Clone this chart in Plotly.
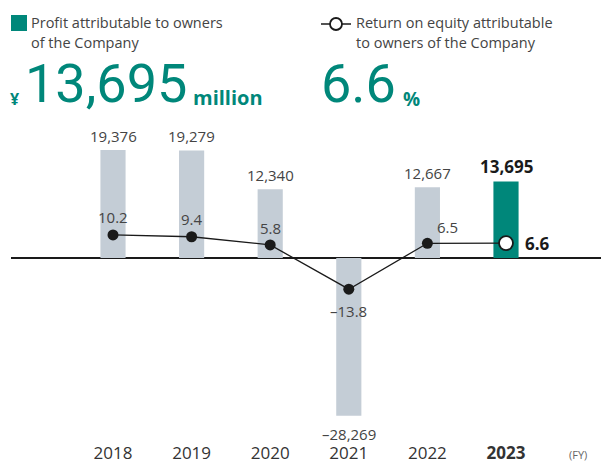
import plotly.graph_objects as go

years = ["2018", "2019", "2020", "2021", "2022", "2023"]
profit = [19376, 19279, 12340, -28269, 12667, 13695]
roe = [10.2, 9.4, 5.8, -13.8, 6.5, 6.6]
tick_text = ["2018", "2019", "2020", "2021", "2022", "<b>2023</b>"]

TEAL = "#00877a"
GRAY = "#c4cdd6"
DARK = "#1a1a1a"
TXT = "#444444"
FONT = "Open Sans"

W, H = 601, 461
ML, MR, MT, MB = 11, 0, 130, 21
PW, PH = W - ML - MR, H - MT - MB


def px(x):
    return (x - ML) / PW


def py(y):
    return (H - MB - y) / PH


def fmt_profit(v):
    s = f"{abs(v):,}"
    return ("\u2013" + s) if v < 0 else s


def fmt_roe(v):
    s = f"{abs(v):.1f}"
    return ("\u2013" + s) if v < 0 else s


fig = go.Figure()
fig.add_trace(go.Bar(
    x=years, y=profit, width=0.32,
    marker=dict(color=[GRAY] * 5 + [TEAL], line=dict(width=0)),
    hoverinfo="skip",
))
fig.add_trace(go.Scatter(
    x=years, y=roe, yaxis="y2", mode="lines+markers",
    line=dict(color=DARK, width=1.3),
    marker=dict(size=[11] * 5 + [14], color=[DARK] * 5 + ["#ffffff"], opacity=1,
                line=dict(color=DARK, width=[0] * 5 + [1.8])),
    cliponaxis=False, hoverinfo="skip",
))

zero_px = 258
bar_scale = 0.00558  # px per unit
roe_scale = 2.26
top_units = (zero_px - MT) / bar_scale
bot_units = (H - MB - zero_px) / bar_scale
top_roe = (zero_px - MT) / roe_scale
bot_roe = (H - MB - zero_px) / roe_scale

cat_w = 78.6
x0 = -(113 - ML) / cat_w
x1 = x0 + PW / cat_w

fig.update_layout(
    width=W, height=H, margin=dict(l=ML, r=MR, t=MT, b=MB, autoexpand=False),
    paper_bgcolor="white", plot_bgcolor="white", showlegend=False,
    font=dict(family=FONT, color=TXT),
    xaxis=dict(type="category", range=[x0, x1], showgrid=False, showline=False,
               zeroline=False, tickvals=years, ticktext=tick_text, ticks="",
               tickfont=dict(family=FONT, size=17, color="#333333"),
               ticklabelstandoff=1, automargin=False),
    yaxis=dict(range=[-bot_units, top_units], showgrid=False, showticklabels=False,
               zeroline=True, zerolinecolor=DARK, zerolinewidth=1.6, automargin=False),
    yaxis2=dict(range=[-bot_roe, top_roe], overlaying="y", showgrid=False,
                showticklabels=False, zeroline=False, automargin=False),
)

# bar value labels (category axes use serial index for annotation x)
for i, v in enumerate(profit):
    last = i == len(years) - 1
    t = fmt_profit(v)
    if last:
        t = "<b>" + t + "</b>"
    fig.add_annotation(
        x=i, y=v, xref="x", yref="y", text=t, showarrow=False,
        xanchor="center", yanchor="bottom" if v >= 0 else "top",
        yshift=2 if v >= 0 else -6,
        font=dict(family=FONT, size=17 if last else 15, color=DARK if last else TXT),
    )

# ROE labels: offsets (dx, dy) in px relative to the point
roe_offsets = [(0, 18), (0, 18), (0, 17), (0, -22), (20, 16), (31, 0)]
for i, v in enumerate(roe):
    last = i == len(years) - 1
    t = fmt_roe(v)
    if last:
        t = "<b>" + t + "</b>"
    dx, dy = roe_offsets[i]
    fig.add_annotation(
        x=i, y=v, xref="x", yref="y2", text=t, showarrow=False,
        xanchor="center", yanchor="middle", xshift=dx, yshift=dy,
        font=dict(family=FONT, size=17 if last else 15, color=DARK if last else TXT),
    )

shapes = [
    dict(type="rect", xref="paper", yref="paper", x0=px(11), x1=px(27),
         y0=py(31), y1=py(15), fillcolor=TEAL, line=dict(width=0)),
    dict(type="line", xref="paper", yref="paper", x0=px(321), x1=px(351),
         y0=py(24), y1=py(24), line=dict(color=DARK, width=1.5)),
    dict(type="circle", xref="paper", yref="paper", x0=px(330), x1=px(342),
         y0=py(30), y1=py(18), fillcolor="white", line=dict(color=DARK, width=1.8)),
]
fig.update_layout(shapes=shapes)


def ann(text, x, y, size, color=TXT, xanchor="left", yanchor="middle", family=FONT):
    fig.add_annotation(text=text, x=px(x), y=py(y), xref="paper", yref="paper",
                       xanchor=xanchor, yanchor=yanchor, showarrow=False,
                       font=dict(family=family, size=size, color=color))


ann("Profit attributable to owners", 29, 22, 14.5)
ann("of the Company", 29, 43, 14.5)
ann("<b>¥</b>", 8, 99, 16, TEAL)
ann("13,695", 23, 83, 54, TEAL, family="Roboto")
ann("<b>million</b>", 191, 98, 20, TEAL)

ann("Return on equity attributable", 354, 22, 14.5)
ann("to owners of the Company", 354, 43, 14.5)
ann("6.6", 319, 83, 54, TEAL, family="Roboto")
ann("<b>%</b>", 401, 99, 19, TEAL)

ann("(FY)", 567, 454, 11, "#666666")

fig.write_html("out.html", config={"displayModeBar": False},
               post_script="document.body.style.margin='0';")
